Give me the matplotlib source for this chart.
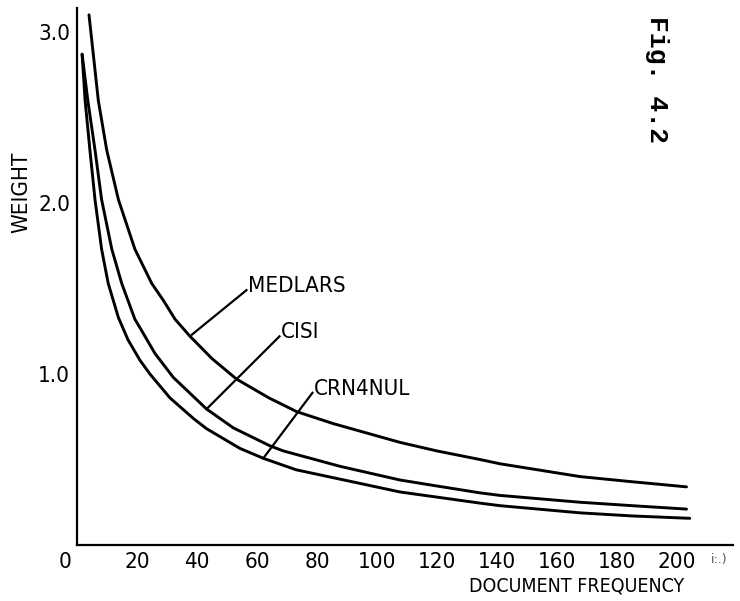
import matplotlib
matplotlib.use("Agg")
import matplotlib.pyplot as plt

# ---- data ----
medlars_x = [4, 7.1, 9.9, 13.8, 19.3, 24.9, 28.8, 32.7, 37.7, 45, 53.2, 64, 73.2, 85.4,
             107.7, 120, 134.3, 141, 167.7, 185, 203.2]
medlars_y = [3.10, 2.60, 2.31, 2.02, 1.73, 1.53, 1.43, 1.32, 1.22, 1.09, 0.97, 0.86, 0.78, 0.71,
             0.60, 0.55, 0.50, 0.475, 0.40, 0.37, 0.34]

cisi_x = [1.7, 3.6, 6.0, 8.2, 11.6, 14.9, 19.3, 21, 26, 32.1, 43.2, 52.1, 64.3, 68.8, 87.7,
          107.7, 120, 134.3, 141, 167.7, 185, 203.2]
cisi_y = [2.87, 2.60, 2.31, 2.02, 1.73, 1.53, 1.32, 1.27, 1.12, 0.98, 0.795, 0.685, 0.58, 0.55, 0.46,
          0.38, 0.345, 0.305, 0.29, 0.25, 0.23, 0.21]

crn_x = [1.7, 2.7, 4.3, 6.0, 8.2, 10.4, 13.8, 17, 21, 24.3, 31, 38.8, 43.2, 54.3, 62.1, 73,
         87.7, 107.7, 120, 134.3, 141, 167.7, 185, 204.3]
crn_y = [2.87, 2.60, 2.31, 2.02, 1.73, 1.53, 1.33, 1.20, 1.08, 1.00, 0.86, 0.74, 0.68, 0.565, 0.507, 0.44,
         0.385, 0.31, 0.28, 0.245, 0.23, 0.188, 0.17, 0.156]

series_names = ["MEDLARS", "CISI", "CRN4NUL"]
x_ticks = [20, 40, 60, 80, 100, 120, 140, 160, 180, 200]
y_ticks = [1.0, 2.0, 3.0]
y_tick_labels = ["1.0", "2.0", "3.0"]
x_label = "DOCUMENT FREQUENCY"
y_label = "WEIGHT"
fig_title = "Fig. 4.2"

# ---- layout / style ----
LABEL_FONT = ["DejaVu Sans"]
STRETCH = "condensed"
fig = plt.figure(figsize=(7.40, 6.01), dpi=100)
ax = fig.add_axes([77 / 740, 56 / 601, 656 / 740, 537 / 601])
ax.set_xlim(0, 218.7)
ax.set_ylim(0, 3.14)

for xs, ys in [(medlars_x, medlars_y), (cisi_x, cisi_y), (crn_x, crn_y)]:
    ax.plot(xs, ys, color="black", lw=2.1, solid_capstyle="round", solid_joinstyle="round")

for side in ("top", "right"):
    ax.spines[side].set_visible(False)
for side in ("left", "bottom"):
    ax.spines[side].set_linewidth(1.6)
    ax.spines[side].set_color("black")

ax.set_xticks(x_ticks)
ax.set_xticklabels([str(t) for t in x_ticks], family=LABEL_FONT, fontsize=16,
                   fontstretch=STRETCH)
ax.set_yticks(y_ticks)
ax.set_yticklabels(y_tick_labels, family=LABEL_FONT, fontsize=16, fontstretch=STRETCH)
ax.tick_params(axis="both", length=0, pad=5)
ax.tick_params(axis="y", pad=5)
ax.text(-4, -0.04, "0", transform=ax.transData, ha="center", va="top",
        family=LABEL_FONT, fontsize=16, fontstretch=STRETCH)

# curve labels with leader lines (start on curve, end at label)
leaders = {
    "MEDLARS": ((38.3, 1.23), (56.5, 1.49)),
    "CISI": ((43.2, 0.795), (67.5, 1.22)),
    "CRN4NUL": ((62.1, 0.507), (78.5, 0.89)),
}
for name in series_names:
    (x0, y0), (x1, y1) = leaders[name]
    ax.plot([x0, x1], [y0, y1], color="black", lw=1.6)
    ax.text(x1 + 0.6, y1 - 0.01, name, ha="left", va="baseline",
            family=LABEL_FONT, fontsize=16, fontstretch=STRETCH)

fig.text(577 / 740, 1 - 586 / 601, x_label, ha="center", va="center",
         family=LABEL_FONT, fontsize=14, fontstretch=STRETCH)
fig.text(21 / 740, 1 - 192 / 601, y_label, ha="center", va="center", rotation=90,
         family=LABEL_FONT, fontsize=16, fontstretch=STRETCH)
fig.text(657 / 740, 1 - 80 / 601, fig_title, ha="center", va="center", rotation=-90,
         family=["Liberation Mono", "DejaVu Sans Mono"], fontsize=19, fontweight="bold")
fig.text(719 / 740, 1 - 560 / 601, "i:.)", ha="center", va="center",
         family=LABEL_FONT, fontsize=9, color="#555555")

fig.savefig("out.png", dpi=100)
